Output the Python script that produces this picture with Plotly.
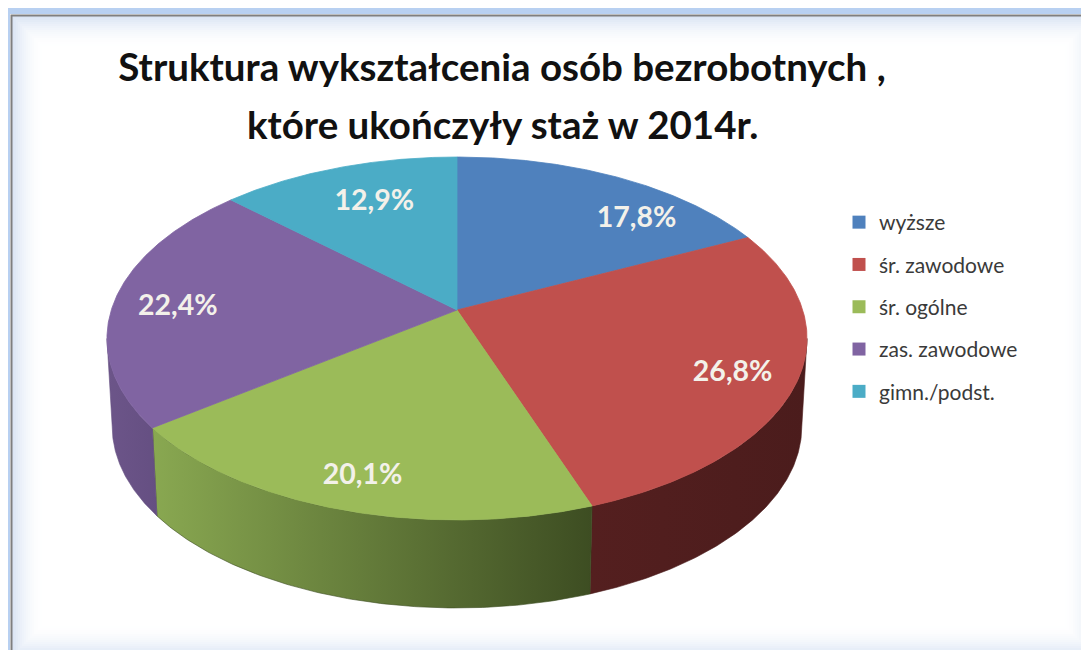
import numpy as np
import plotly.graph_objects as go

# ---------------- data ----------------
categories = ["wyższe", "śr. zawodowe", "śr. ogólne", "zas. zawodowe", "gimn./podst."]
shares = [17.8, 26.8, 20.1, 22.4, 12.9]
title_line1 = "Struktura wykształcenia osób bezrobotnych ,"
title_line2 = "które ukończyły staż w 2014r."

# ---------------- styles ----------------
top_colors = ["#4F81BD", "#C0504D", "#9BBB59", "#8064A2", "#4BACC6"]
side_colors = [
    ["#3B6193", "#2E4D75"],
    ["#541F1F", "#4B1C1C"],
    ["#89A851", "#3D4D22"],
    ["#6C5589", "#654F82"],
    ["#38879C", "#2F7285"],
]
label_nudge = [(47, 18), (7, 7), (-4, 13), (-5, 6), (15, 10)]
FONT = "Lato"

W, H = 1089, 650
OFF = 8                          # page body margin of the html page
X0, Y0 = 457.0, 310.0          # projected pie centre
A, B = 345.7, 177.0             # projected radii
K = -0.157                      # perspective factor
DEPTH = 88.0                    # pie thickness (px)


def px(X):   # page x -> paper x
    return (X - OFF) / W


def py(Y):   # page y -> paper y
    return 1 - (Y - OFF) / H


def proj(phi_deg, r=1.0, bottom=False):
    phi = np.radians(np.asarray(phi_deg, dtype=float))
    u = r * np.sin(phi)
    v = -r * np.cos(phi)
    den = 1 + K * v
    s = 0.985 if bottom else 1.0
    x = X0 + A * s * u / den
    y = Y0 + B * v / den + (DEPTH if bottom else 0.0)
    return x, y


total = float(sum(shares))
cum = np.concatenate([[0.0], np.cumsum(shares)]) / total * 360.0
phi_r = np.degrees(np.arccos(K))        # right silhouette
phi_l = 360.0 - phi_r                   # left silhouette

fig = go.Figure()

# side walls (front part of the cylinder)
for i in range(len(shares)):
    a0, a1 = max(cum[i], phi_r), min(cum[i + 1], phi_l)
    if a1 <= a0:
        continue
    ph = np.linspace(a0, a1, 120)
    xt, yt = proj(ph)
    xb, yb = proj(ph[::-1], bottom=True)
    xs = np.concatenate([xt, xb, xt[:1]])
    ys = np.concatenate([yt, yb, yt[:1]])
    fig.add_trace(go.Scatter(
        x=xs, y=ys, mode="lines", fill="toself",
        line=dict(width=0.6, color=side_colors[i][1]),
        fillgradient=dict(type="horizontal",
                          colorscale=[[0, side_colors[i][0]], [1, side_colors[i][1]]]),
        hoverinfo="skip", showlegend=False))

# top faces
for i in range(len(shares)):
    ph = np.linspace(cum[i], cum[i + 1], 200)
    xa, ya = proj(ph)
    xs = np.concatenate([[X0], xa, [X0]])
    ys = np.concatenate([[Y0], ya, [Y0]])
    fig.add_trace(go.Scatter(
        x=xs, y=ys, mode="lines", fill="toself",
        fillcolor=top_colors[i], line=dict(width=0.8, color=top_colors[i]),
        hoverinfo="skip", showlegend=False))

# data labels
mids = (cum[:-1] + cum[1:]) / 2
lx, ly = proj(mids, r=0.8)
lx = lx + np.array([n[0] for n in label_nudge])
ly = ly + np.array([n[1] for n in label_nudge])
label_text = [f"{v:.1f}".replace(".", ",") + "%" for v in shares]
fig.add_trace(go.Scatter(
    x=lx, y=ly, mode="text", text=label_text,
    textfont=dict(family=FONT, size=28.5, color="#F3F1EA", weight="bold"),
    hoverinfo="skip", showlegend=False))

# legend entries
for i, name in enumerate(categories):
    fig.add_trace(go.Scatter(
        x=[None], y=[None], mode="markers", name=name,
        marker=dict(symbol="square", size=13, color=top_colors[i]),
        legendgroup=f"g{i}", hoverinfo="skip"))

# frame (Excel-like chart area with soft inner glow)
FX0, FY0, FX1, FY1 = 12, 16, 1095, 656
shapes = []
shapes.append(dict(type="rect", x0=FX0 - 5, y0=FY0 - 5, x1=FX1 + 5, y1=FY1 + 5,
                   line=dict(color="rgba(160,192,236,0.75)", width=6), layer="below"))
for k in range(16):
    inset = 1 + k * 2
    alpha = 0.45 * (1 - k / 16) ** 2
    shapes.append(dict(type="rect", x0=FX0 + inset, y0=FY0 + inset,
                       x1=FX1 - inset, y1=FY1 - inset,
                       line=dict(color=f"rgba(175,198,230,{alpha:.3f})", width=2), layer="below"))
shapes.append(dict(type="rect", x0=FX0 - 0.5, y0=FY0 - 0.5, x1=FX1, y1=FY1,
                   line=dict(color="#7F7F7F", width=2), layer="below"))

fig.update_layout(
    width=W, height=H,
    margin=dict(l=0, r=0, t=0, b=0, autoexpand=False),
    paper_bgcolor="white", plot_bgcolor="white",
    xaxis=dict(range=[OFF, W + OFF], visible=False, fixedrange=True),
    yaxis=dict(range=[H + OFF, OFF], visible=False, fixedrange=True),
    shapes=shapes,
    title=dict(text=title_line1, x=px(502), xanchor="center",
               y=py(68), yanchor="middle",
               font=dict(family=FONT, size=38.5, color="#111111", weight="bold")),
    annotations=[dict(text=title_line2, x=502, y=124, xref="x", yref="y",
                      xanchor="center", yanchor="middle", showarrow=False,
                      font=dict(family=FONT, size=38.5, color="#111111", weight="bold"))],
    legend=dict(x=px(839), y=py(202), xanchor="left", yanchor="top",
                font=dict(family=FONT, size=21, color="#3A3A3A"),
                tracegroupgap=12, bgcolor="rgba(0,0,0,0)", traceorder="grouped"),
    showlegend=True,
    hovermode=False,
)

fig.write_html("out.html")
